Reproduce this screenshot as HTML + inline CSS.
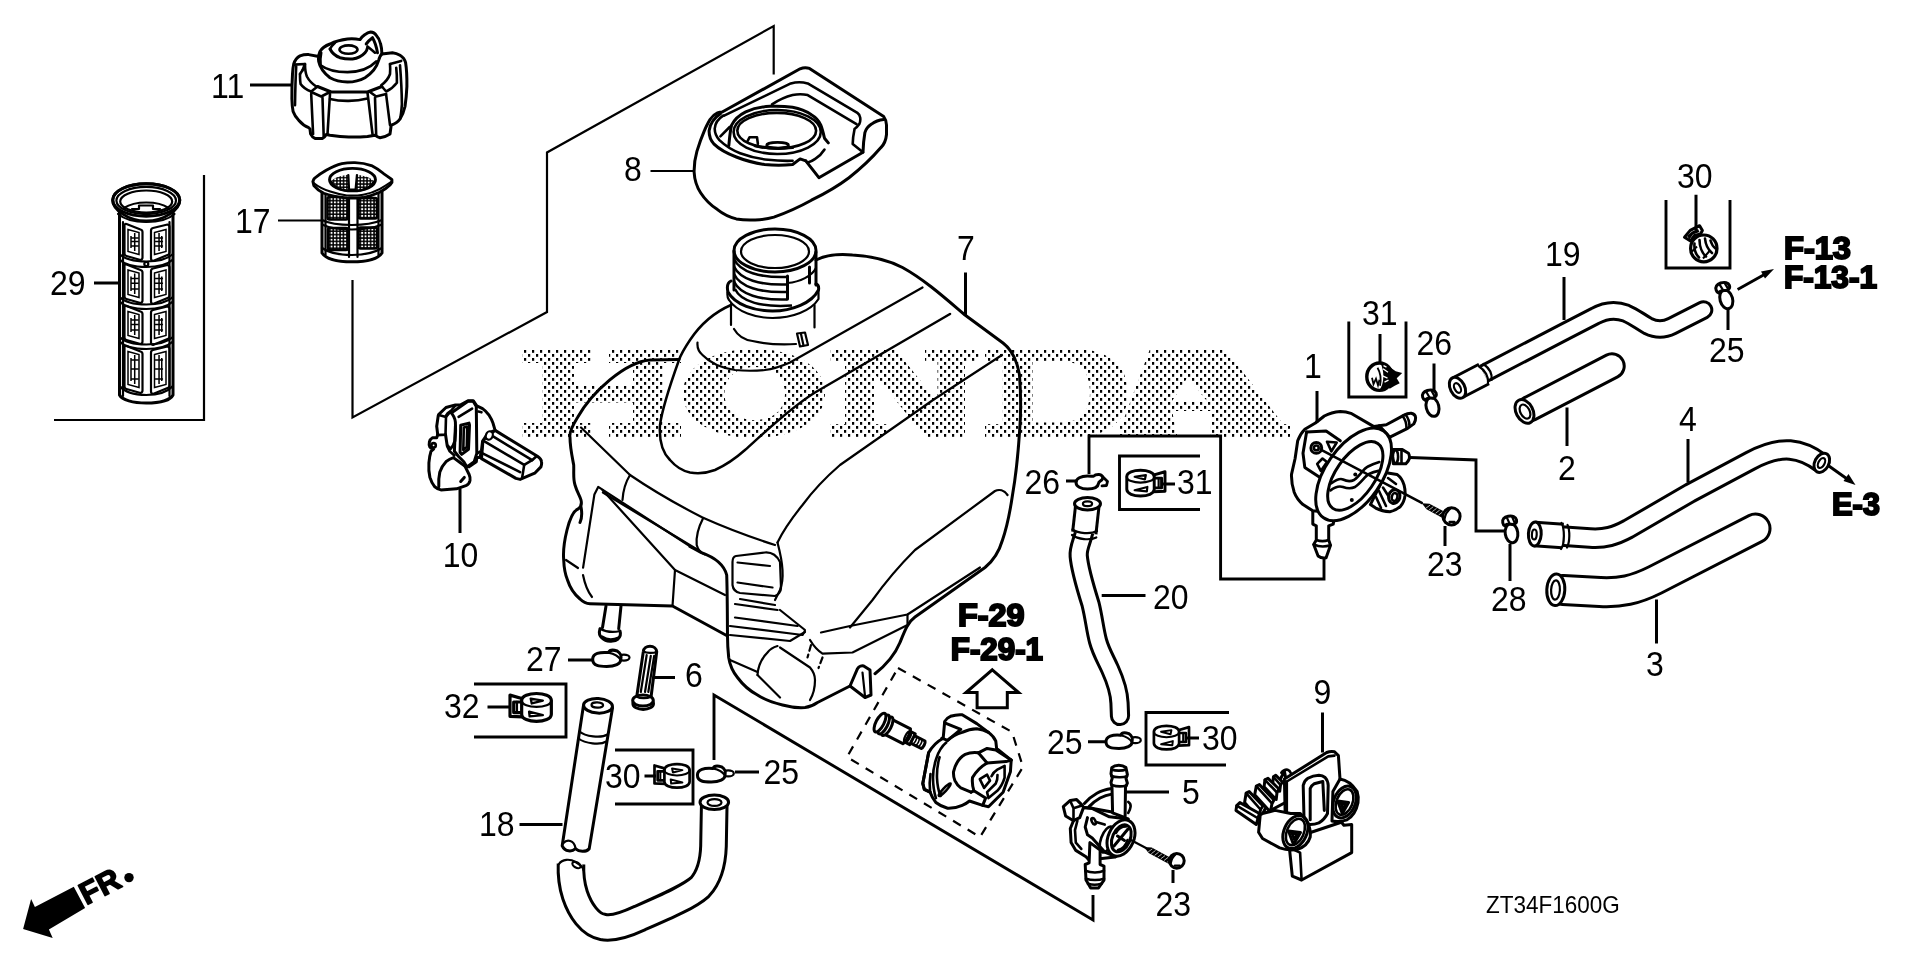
<!DOCTYPE html>
<html><head><meta charset="utf-8"><title>Fuel tank parts diagram</title>
<style>
html,body{margin:0;padding:0;background:#fff;}
body{width:1920px;height:959px;overflow:hidden;font-family:"Liberation Sans",sans-serif;}
svg{display:block;font-family:"Liberation Sans",sans-serif;}
.o{fill:none;stroke:#000;stroke-width:3;stroke-linecap:round;stroke-linejoin:round;}
.t{fill:none;stroke:#000;stroke-width:2.2;stroke-linecap:round;stroke-linejoin:round;}
.l{fill:none;stroke:#000;stroke-width:3;stroke-linecap:butt;stroke-linejoin:miter;}
.w{fill:#fff;stroke:#000;stroke-width:3;stroke-linecap:round;stroke-linejoin:round;}
.wt{fill:#fff;stroke:#000;stroke-width:2.2;stroke-linecap:round;stroke-linejoin:round;}
.k{fill:#000;stroke:none;}
#cap11 .t,#part10 .t,#valve5 .t,#part9 .t,#pump1 .t,#knob .t,#cover8 .t{stroke-width:2.6;}
</style></head><body>
<svg width="1920" height="959" viewBox="0 0 1920 959" style="filter:grayscale(1)">
<rect x="0" y="0" width="1920" height="959" fill="#fff"/>
<!-- 05_defs.svg -->
<defs>
<pattern id="mesh" width="3.4" height="3.4" patternUnits="userSpaceOnUse">
<rect width="3.4" height="3.4" fill="#000"/><rect x="0.8" y="0.8" width="1.9" height="1.9" fill="#fff"/>
</pattern>
<pattern id="dots" x="0" y="2" width="8" height="8" patternUnits="userSpaceOnUse">
<rect x="0" y="0" width="2.2" height="2.8" fill="#000"/><rect x="4" y="4" width="2.2" height="2.8" fill="#000"/>
</pattern>
</defs>

<!-- 20_tank.svg -->
<g id="tank">
<!-- outer silhouette -->
<path class="o" d="M816 260C828 254 842 254 852.5 255C872 256 888 260 902.5 267.5C925 280 945 298 965 315L1003 343C1012 350 1017 360 1019.5 375C1021 395 1021 415 1019.5 432.5C1018 455 1016 475 1012.5 495C1010 512 1007 527 1002.5 540C999 552 993 561 985 567.5L915 617C908 622 905 630 900 642.5C896 652 890 662 875 673.7"/>
<path class="o" d="M679 359.5L650 360C625 362 592 392 577.5 417.5C571 428 569 433 570 437.5C570 447 572 456 573.7 465C574 473 573 479 575 485C577 492 580 496 581 500C582 504 581 507 578 509C573 511 570 518 567 530C564 542 563 552 563.7 560C564 568 565 574 567.5 580C570 588 574 594 580 599C583 602 586 603.5 590 603.7L672.5 606L727.5 636"/>
<path class="o" d="M581 507C582 512 582 518 580 522.5"/>
<path class="o" d="M690 546.5L701.4 552.6C714.5 557.3 723.9 563.8 726.7 575C727.3 590 727.3 610 727.5 636C727.5 645 728 651 728.7 657.5C730 666 733 672 737.5 677.5C743 685 750 691 757.5 695C765 700 774 703 782.5 705C790 707 798 708 805 707.5C810 707 814 705 817.5 702.5L850 686"/>
<path class="o" d="M850 686L857.5 668.7C859 666 862 665.5 863.7 666L870 670L871 695L865 697.5Z"/>
<path class="t" d="M862.5 672.5L865 696"/>
<!-- saddle / dome line C -->
<path fill="none" stroke="#000" stroke-width="2.5" stroke-linecap="round" d="M731 305C715 312 700 325 690 340C684 349 681 354 679 360C670 385 662 410 660 425C659 440 662 452 670 460C676 467 683 471 690 472.5C698 474 707 473 715 470C726 465 736 458 745 450C765 432 790 408 815 392.5L950 314"/>
<!-- dome base ellipse arc -->
<path class="t" d="M697.5 342.5C697 348 699 352 702.5 355C710 363 722 368 735 370C745 371 755 371 765 370C774 369 782 366 790 362.5L922.5 287.5"/>
<!-- line D -->
<path class="t" d="M1002 355L933 400L840 465C825 478 812 492 802.5 505C792 518 783 531 777.5 542.5"/>
<!-- shoulder B -->
<path class="t" d="M581 427.5L630 475C652 490 678 505 702.5 517.5C726 528 750 537 775 545"/>
<path class="t" d="M630 475C625 483 623 492 622.5 500"/>
<path class="t" d="M703.2 517.9C698 528 696 538 696.7 545C698 550 701 553 705 554.4"/>
<!-- line F, G -->
<path class="t" d="M1007.5 495C1004 490 999 489 995 491L915 550C898 567 884 584 872.5 600L850 627.5"/>
<path class="t" d="M980 567.5L907.5 614.5L850 626L821 632.5"/>
<path class="t" d="M907.5 614.5V625L852.5 652.5L822.5 653.7C817 650 813 645 810 640"/>
<!-- recessed panel H -->
<path class="t" d="M583.1 567.6L594.4 494.4L598.2 486.9L692 547.5"/>
<path class="t" d="M602.9 492.5L697.6 549.8"/>
<path class="t" d="M602.5 490L675 570L725 595"/>
<path class="t" d="M675 570L672.5 606"/>
<path class="t" d="M566 560L578 568"/>
<path class="t" d="M583 575C585 585 588 592 592 597"/>
<!-- J -->
<path class="t" d="M777.5 542.5C780 552 782 561 782.5 570C783 578 782 585 780 590L775 600"/>
<!-- pad I -->
<path class="t" d="M736 556L765 552.5C772 552 777 556 780 562L781 588C781 592 778 595 775 596L740 593C735 592 733 589 732.5 585V562C732.5 558 734 556.5 736 556Z"/>
<path class="t" d="M737.5 562.5L770 566"/>
<path class="t" d="M737.5 582.5L772.5 587.5"/>
<path class="t" d="M740 599L775 605"/>
<path class="t" d="M735 604L777.5 610"/>
<path class="t" d="M735 617.5L797.5 626"/>
<path class="t" d="M730 626L802.5 635C804 633 805 631 805 630L780 610"/>
<path class="t" d="M730 635L790 641L805 632"/>
<!-- bottom dome -->
<path class="t" d="M757.5 675C758 666 762 658 767.5 652.5C770 649 774 647 777.5 646"/>
<path class="t" d="M780 647.5L810 667.5C813 671 815 675 815 680C815 688 813 695 810 700"/>
<path class="t" d="M757.5 675L780 697.5"/>
<path class="t" d="M730 660L757.5 672"/>
<path class="t" stroke-dasharray="6 4" d="M811 645L807.5 657.5"/>
<path class="t" stroke-dasharray="6 4" d="M822.5 657.5L818.5 668"/>
<!-- outlet pipe -->
<path class="o" d="M606 606L602.5 627.5M621 606L618.7 628.7"/>
<path class="o" d="M600 628.7C599 632 599.5 636 602 638C606 642 614 642.5 618 639C620 637 621 634 620 631"/>
<path class="t" d="M600 628.7C606 632 614 632.5 620 631"/>
<path class="t" d="M602 636.5C607 640 613 640 618.5 637.5"/>
<!-- neck -->
<path class="o" d="M734 251V290M816 252V285"/>
<ellipse class="o" cx="775" cy="250.5" rx="41" ry="21.5"/>
<ellipse class="t" cx="775" cy="251.5" rx="34" ry="16.5"/>
<path fill="none" stroke="#000" stroke-width="2.5" d="M734 259C740 272 760 278 787.5 277M734 266.5C740 279.5 760 285.5 787.5 284.5M734 274C740 287 760 293 787.5 292M734 281.5C740 294.5 760 300.5 787.5 299.5M735 289C741 302 762 307.5 792 305.5"/>
<path class="o" d="M787.5 276V299"/>
<path class="t" d="M787.5 283C800 282 812 276 816 268"/>
<path class="o" d="M809.5 267V283"/>
<path class="o" d="M731 281C727 283 727 288 728 292C735 305 755 311 772.5 311C792 311 812 303 818.5 290C819 287 819 285 816 284"/>
<path class="t" d="M727.5 292C727 296 727.5 298 729 300C737 312 756 318 772.5 318C792 318 811 311 818.5 299V290"/>
<path class="t" d="M731 304V325M814.5 305V327.5"/>
<path class="t" d="M734 329C738 336 745 340 752.5 341C766 344 782 345 796 344"/>
<path class="wt" d="M797 333.5L805 332.5L808 345L800 346.5Z"/>
<path class="t" d="M801 334L803.5 345.5"/>
<!-- label 7 leader join handled in leaders -->
</g>

<!-- 30_hoses.svg -->
<g id="hoses" fill="none" stroke-linejoin="round">
<!-- hose 19 -->
<g id="h19">
<path d="M1481 375.2L1565 331.5L1595 316C1604 311 1615 309 1626 313.2C1634 316.5 1640 321.5 1648 326C1656 330 1664 330 1672 326L1703.5 310" stroke="#000" stroke-width="19.6" stroke-linecap="round"/>
<path d="M1481 375.2L1565 331.5L1595 316C1604 311 1615 309 1626 313.2C1634 316.5 1640 321.5 1648 326C1656 330 1664 330 1672 326L1703.5 310" stroke="#fff" stroke-width="13.6" stroke-linecap="round"/>
<path d="M1458 387.5L1484 374" stroke="#000" stroke-width="25" stroke-linecap="butt"/>
<path d="M1458 387.5L1484 374" stroke="#fff" stroke-width="19.0" stroke-linecap="butt"/>
<path d="M1479 366.5C1485 370 1489 377 1488 383.5" class="t"/>
<path d="M1483.5 364C1489 368 1492.5 374 1491.5 380" class="t"/>
<ellipse cx="1457.5" cy="387.8" rx="7.2" ry="11.2" transform="rotate(-27 1457.5 387.8)" class="w"/>
<ellipse cx="1457.5" cy="388" rx="3" ry="5.2" transform="rotate(-27 1457.5 388)" class="t"/>
</g>
<!-- hose 2 -->
<g id="h2">
<path d="M1530 408.5L1612 366" stroke="#000" stroke-width="27.4" stroke-linecap="round"/>
<path d="M1530 408.5L1612 366" stroke="#fff" stroke-width="21.4" stroke-linecap="round"/>
<ellipse cx="1524.5" cy="411.4" rx="8.4" ry="12.6" transform="rotate(-27.4 1524.5 411.4)" class="w"/>
<ellipse cx="1525" cy="411.6" rx="4.6" ry="7.6" transform="rotate(-27.4 1525 411.6)" class="t"/>
</g>
<!-- hose 4 -->
<g id="h4">
<path d="M1561 536L1590 538C1605 539 1615 536 1628 529L1690 493L1750 461C1765 453 1778 449 1790 450C1802 451 1812 456 1821 463" stroke="#000" stroke-width="21.4" stroke-linecap="butt"/>
<path d="M1561 536L1590 538C1605 539 1615 536 1628 529L1690 493L1750 461C1765 453 1778 449 1790 450C1802 451 1812 456 1821 463" stroke="#fff" stroke-width="15.4" stroke-linecap="butt"/>
<path d="M1534.5 534L1563 536" stroke="#000" stroke-width="26.5" stroke-linecap="butt"/>
<path d="M1534.5 534L1563 536" stroke="#fff" stroke-width="20.5" stroke-linecap="butt"/>
<path d="M1561.5 523C1564.5 528 1565 544 1561 549" class="t"/>
<path d="M1567.5 525C1570 530 1570 542 1567 547.5" class="t"/>
<ellipse cx="1534.8" cy="534" rx="6.4" ry="12" transform="rotate(3 1534.8 534)" class="w"/>
<ellipse cx="1534.3" cy="534.5" rx="2.4" ry="5" transform="rotate(3 1534.3 534.5)" class="t"/>
<ellipse cx="1821.8" cy="462.8" rx="7" ry="10.2" transform="rotate(28 1821.8 462.8)" class="w"/>
<ellipse cx="1821.5" cy="463" rx="3" ry="5.4" transform="rotate(28 1821.5 463)" class="t"/>
</g>
<!-- hose 3 -->
<g id="h3">
<path d="M1563 590.1L1600 592C1620 593 1635 590 1655 580L1755.5 528.5" stroke="#000" stroke-width="32" stroke-linecap="round"/>
<path d="M1563 590.1L1600 592C1620 593 1635 590 1655 580L1755.5 528.5" stroke="#fff" stroke-width="26.0" stroke-linecap="round"/>
<ellipse cx="1555.8" cy="589.8" rx="9" ry="15.8" transform="rotate(3 1555.8 589.8)" class="w"/>
<ellipse cx="1555.5" cy="590" rx="4.4" ry="9.6" transform="rotate(3 1555.5 590)" class="t"/>
</g>
<!-- hose 20 -->
<g id="h20">
<path d="M1084.5 531C1082 542 1078 548 1078.7 556C1079.5 566 1083 580 1090.5 604C1094 618 1095 630 1098 641C1101 652 1106 660 1110 669C1115 680 1119 690 1119.5 703L1120 716" stroke="#000" stroke-width="20.2" stroke-linecap="round"/>
<path d="M1084.5 531C1082 542 1078 548 1078.7 556C1079.5 566 1083 580 1090.5 604C1094 618 1095 630 1098 641C1101 652 1106 660 1110 669C1115 680 1119 690 1119.5 703L1120 716" stroke="#fff" stroke-width="14.2" stroke-linecap="round"/>
<path d="M1087.5 504L1084.3 533" stroke="#000" stroke-width="26.4" stroke-linecap="butt"/>
<path d="M1087.5 504L1084.3 533" stroke="#fff" stroke-width="20.4" stroke-linecap="butt"/>
<path d="M1072.5 529.5C1078 533.5 1091 534.5 1097 531" class="t"/>
<path d="M1072 535C1078 539.5 1090 540.5 1096.3 537.5" class="t"/>
<ellipse cx="1087.5" cy="503.8" rx="13" ry="6.2" class="w"/>
<ellipse cx="1087.5" cy="503.8" rx="4.6" ry="2.4" class="t"/>
</g>
<!-- hose 18 -->
<g id="h18">
<path class="w" d="M583.4 706L562.2 845.8C565 852 572 852 575.3 848.7C579 852 586 852.5 589.2 848.7L612.5 708Z"/>
<path class="t" d="M579.5 731.5C585 736.5 601 738.5 607.5 734.5"/>
<path class="t" d="M578.5 738.5C585 743.5 600 745.5 606.3 741.5"/>
<path class="t" d="M563.5 843C567 839 574 840 575.5 848"/>
<ellipse cx="598" cy="705.8" rx="14.5" ry="7.3" class="w" transform="rotate(3 598 705.8)"/>
<ellipse cx="597.3" cy="705" rx="5.8" ry="2.7" class="t" transform="rotate(3 597.3 705)"/>
</g>
<!-- lower U hose -->
<g id="hU">
<path d="M714.3 802L713.5 846C713 862 710 876 700 887C690 896 670 905 640 918C625 925 612 929 603 927C590 925 580 910 575 895C572 886 570.5 876 571 864" stroke="#000" stroke-width="28.6" stroke-linecap="butt"/>
<path d="M714.3 800L713.5 846C713 862 710 876 700 887C690 896 670 905 640 918C625 925 612 929 603 927C590 925 580 910 575 895C572 886 570.5 876 571 862" stroke="#fff" stroke-width="22.6" stroke-linecap="butt"/>
<path class="t" d="M559 864C562 859 570 858.5 575.5 862C580 864.5 583 867 583.5 870"/>
<ellipse cx="576.5" cy="865" rx="4.5" ry="2.6" class="t" transform="rotate(30 576.5 865)"/>
<ellipse cx="714.3" cy="802.2" rx="14.3" ry="7.2" class="w"/>
<ellipse cx="714.5" cy="802.5" rx="7" ry="3.4" class="t"/>
</g>
</g>

<!-- 40_cap11.svg -->
<g id="cap11">
<path class="w" d="M293.7 64C295 60 297 57.5 300 55.9C303 54.8 306 54.5 308.7 54.6L318.7 56.5C319 54.5 319.3 53 320 51.5C322 48 326 45.5 330 44C335 41.5 341 39.8 347.5 39C352 38.6 356 38.8 360 39.6C361.5 37.5 363 36 365 34.6C367 33 369 32.3 370.6 32.1C373 32.3 375 33.5 376.2 35.2C378.5 37.5 379.8 40.5 380.6 44C381.5 47 381.8 50 381.9 54L392.5 52.7C395.5 53 398 54 400 55.2C403 57 404.8 59.5 405.6 62.7C406.8 70 407 78 406.9 86.5C406.6 93 406 100 405 106.5C404 111 402.5 115 400 119C398 122 395 124 391.2 125.2L390 134C387 136 384 137.3 380 137.7C378 137.3 376.3 136.3 375 135.2L367.5 136.5C361 137 355 137.2 348.7 137C342 136.7 336 136 330 135.2L326.2 134.6C325 136.5 324 137.8 322.5 138.4H315C313 137.5 311.5 136 310.6 134L310 129L308.7 127.7C304.5 126 301.5 123.5 298.7 120.2C296 117.5 294.2 114.5 293.1 111.5C292.3 107.5 292 103 291.9 99C291.8 90 292 82 292.5 74C292.7 70.5 293 67 293.7 64Z"/>
<!-- left lobe -->
<path class="t" d="M294.4 64.6L305 64L302.5 70.2"/>
<path class="t" d="M305 64C305 69 305.5 73 306.9 76.5C309 80.5 312.5 84 316.2 86.5"/>
<path class="t" d="M300 74C300 78 300 81 300.6 84C303 87.5 307 90 311.2 91.5L317.5 86.5"/>
<path class="t" d="M296.2 66.5C295.6 78 295.2 92 295 105.2"/>
<path class="t" d="M302.5 70.2L300 74"/>
<!-- top face front edges -->
<path class="o" d="M317.5 86.5L331.2 92H367.5L381.9 86.5"/>
<path class="t" d="M311.2 92L321.2 96.5L330 92"/>
<path class="t" d="M311.2 94L313.1 134M322.5 97.7L323.7 136.5M330 94L327.5 134"/>
<path class="t" d="M330 99C336 100.5 342 101 348.7 100.9C355 100.7 361 100 367.5 98.4"/>
<path class="t" d="M370 92L376.2 96.5L386.2 94"/>
<path class="t" d="M367.5 92.7L372.5 134M375 97.7L376.2 135.2M386.2 95.2L390 125.2"/>
<!-- right lobe -->
<path class="t" d="M390 64L401.2 60.9"/>
<path class="t" d="M390 64C390.3 68 390.3 71 390 74C388.5 78.5 385 82.5 381.2 85.2"/>
<path class="t" d="M396.2 67.7C396.8 73 397 78 396.9 82.7C394 86.5 390.5 89.5 386.2 91.5L381.9 86.5"/>
<path class="t" d="M400 65.2C401 78 401.8 92 401.9 104C401.5 110 401 115 400 119"/>
<!-- dome -->
<path class="o" d="M318.7 56.5C318.3 58.5 318.4 60 318.7 61.5C320 68 324.5 73.5 330 77.7C335 80.5 341 81.8 347.5 82.1C354 82 360 80.5 365 77.7C371 74 376.5 68 378.7 60.2C379.5 57 380.5 55 381.9 54"/>
<path class="t" d="M320.6 65.2C327 70 337 72 347.5 72.1C358 72 369 69 376.2 61.5"/>
<path class="t" d="M321.2 52.7C320.3 57 320.2 61 320.6 65.2"/>
<path class="o" d="M330 49C332 53 335.5 56 340 57.7C344 58.8 348 59.2 352.5 59C357.5 58.3 362 56 365 52.7C366.5 51 367.3 49.5 367.5 47.7"/>
<path class="t" d="M330 49C331 46.5 333 44.5 335 42.7"/>
<ellipse cx="348.5" cy="49.6" rx="9" ry="4.2" fill="none" stroke="#000" stroke-width="2.6"/>
<!-- tab -->
<path class="o" d="M366.2 44C368 41.5 370 39.5 372.5 37.7C375 42 376.5 47 377.5 52.7"/>
<path class="t" d="M367.5 46.5C370 48.5 372.5 50.5 375 52.7"/>
</g>

<!-- 41_strainer17.svg -->
<g id="strainer17">
<!-- body -->
<path class="w" d="M322 190V253C326 259 338 261.8 352 261.8C366 261.8 378 259 382 253V190Z"/>
<path class="t" d="M325.5 193V255M378.5 193V255"/>
<rect x="327.5" y="197" width="20.5" height="22.5" rx="2" fill="url(#mesh)" stroke="#000" stroke-width="2.6"/>
<rect x="358.5" y="198" width="18.5" height="20.5" rx="2" fill="url(#mesh)" stroke="#000" stroke-width="2.6"/>
<rect x="328" y="228" width="20" height="22" rx="2" fill="url(#mesh)" stroke="#000" stroke-width="2.6"/>
<rect x="358.5" y="227.5" width="18.5" height="21" rx="2" fill="url(#mesh)" stroke="#000" stroke-width="2.6"/>
<path class="t" d="M322 220C330 224 340 225 352 225C364 225 374 223.5 382 220"/>
<path class="t" d="M322 224.5C330 228.5 340 229.5 352 229.5C364 229.5 374 228 382 224.5"/>
<path class="t" d="M322 248C330 253.5 340 255 352 255C364 255 374 253 382 248"/>
<path class="t" d="M349 198V257M357.5 198V257"/>
<g transform="translate(352.5 0) scale(0.985 1) translate(-352.5 0) translate(0 190) scale(1 0.94) translate(0 -190)">
<!-- rim -->
<path class="w" d="M312.3 181C313 178.5 313.5 178 314 177.5C318 174 321.5 171.5 325.8 169C331 166 336 163.5 341.7 162C346 161 350.5 160.7 355 160.8C361 161 366.5 162 371.7 164C376.5 166.5 380.5 169.5 384 172.5C387 174.5 390 177 392.5 179V182L390.8 184.5C388 187.5 384.5 190 380 192.5C375 195 369.5 197 363.3 198C358 198.7 352 198.8 346.7 198.5C338 197.5 330 196 323.3 193.5C319.5 191.5 316 189 313.3 185.4Z"/>
<path class="t" d="M313 182.5C316 185 322 189 330 191.7C335 193.5 341 195 346.7 195.8C352 196.2 358 196 363.3 195C369.5 193.8 375 191.8 380 189C384.5 186.5 388 184 391.5 181.5"/>
<ellipse cx="352.5" cy="179" rx="23.3" ry="12" class="w"/>
<path d="M331.5 180C333 186 342 190.5 352.5 190.5C363 190.5 372 186 373.5 180C370 176 361 173.5 352.5 173.5C344 173.5 335 176 331.5 180Z" fill="url(#mesh)"/>
<path d="M348.3 172L349 189.5H355.6L357 172Z" fill="#fff"/>
<path class="t" d="M348.3 174L349 189.5H355.6L357 174"/>
<path class="t" d="M331 181C334 187.5 342 191 352.5 191C363 191 371 187.5 374 181"/>
</g>
</g>

<!-- 42_filter29.svg -->
<g id="filter29">
<path class="w" d="M119.5 205V395C122 400 133 403 146.2 403C160 403 170.5 400 173 395V205Z"/>
<path class="t" d="M123 222V396M169.5 222V396"/>
<path class="t" d="M119.5 254C125 259.5 135 261.5 146.2 261.5C158 261.5 167 259.5 173 254"/>
<path class="t" d="M119.5 259.5C125 265.0 135 267.0 146.2 267.0C158 267.0 167 265.0 173 259.5"/>
<path class="t" d="M119.5 297C125 302.5 135 304.5 146.2 304.5C158 304.5 167 302.5 173 297"/>
<path class="t" d="M119.5 301.5C125 307.0 135 309.0 146.2 309.0C158 309.0 167 307.0 173 301.5"/>
<path class="t" d="M119.5 337C125 342.5 135 344.5 146.2 344.5C158 344.5 167 342.5 173 337"/>
<path class="t" d="M119.5 341.5C125 347.0 135 349.0 146.2 349.0C158 349.0 167 347.0 173 341.5"/>
<path class="t" d="M119.5 386C125 392.5 135 395 146.2 395C158 395 167 392.5 173 386"/>
<path class="t" d="M124.5 225.5Q124.5 223.5 126.5 224.0L140.5 229.5Q142.5 230.0 142.5 232.0V257.5Q142.5 259.5 140.5 260.0L126.5 256.0Q124.5 255.5 124.5 253.5Z"/>
<path fill="none" stroke="#000" stroke-width="1.5" d="M128.0 229.5L139.0 232.5V254.5L128.0 251.5Z"/>
<path fill="none" stroke="#000" stroke-width="1.5" d="M134.7 233V251M130.7 238H138.7M130.7 241.5H138.7M130.7 246H138.7M131.0 236V248"/>
<path class="t" d="M151 230.5Q151 228.5 153 228.0L167.5 224.5Q169.5 225.0 169.5 227.0V252.5Q169.5 254.5 167.5 255.0L153 261.0Q151 260.5 151 258.5Z"/>
<path fill="none" stroke="#000" stroke-width="1.5" d="M154.5 232.5L166.0 229.5V251.5L154.5 254.5Z"/>
<path fill="none" stroke="#000" stroke-width="1.5" d="M159.05 233V251M155.05 238H163.05M155.05 241.5H163.05M155.05 246H163.05M161.75 236V248"/>
<path class="t" d="M124.5 266.0Q124.5 264.0 126.5 264.5L140.5 270.0Q142.5 270.5 142.5 272.5V300.5Q142.5 302.5 140.5 303.0L126.5 299.0Q124.5 298.5 124.5 296.5Z"/>
<path fill="none" stroke="#000" stroke-width="1.5" d="M128.0 270.0L139.0 273.0V297.5L128.0 294.5Z"/>
<path fill="none" stroke="#000" stroke-width="1.5" d="M134.7 273.5V294M130.7 278.5H138.7M130.7 283.25H138.7M130.7 289H138.7M131.0 276.5V291"/>
<path class="t" d="M151 271.0Q151 269.0 153 268.5L167.5 265.0Q169.5 265.5 169.5 267.5V295.5Q169.5 297.5 167.5 298.0L153 304.0Q151 303.5 151 301.5Z"/>
<path fill="none" stroke="#000" stroke-width="1.5" d="M154.5 273.0L166.0 270.0V294.5L154.5 297.5Z"/>
<path fill="none" stroke="#000" stroke-width="1.5" d="M159.05 273.5V294M155.05 278.5H163.05M155.05 283.25H163.05M155.05 289H163.05M161.75 276.5V291"/>
<path class="t" d="M124.5 307.5Q124.5 305.5 126.5 306.0L140.5 311.5Q142.5 312.0 142.5 314.0V341.5Q142.5 343.5 140.5 344.0L126.5 340.0Q124.5 339.5 124.5 337.5Z"/>
<path fill="none" stroke="#000" stroke-width="1.5" d="M128.0 311.5L139.0 314.5V338.5L128.0 335.5Z"/>
<path fill="none" stroke="#000" stroke-width="1.5" d="M134.7 315V335M130.7 320H138.7M130.7 324.5H138.7M130.7 330H138.7M131.0 318V332"/>
<path class="t" d="M151 312.5Q151 310.5 153 310.0L167.5 306.5Q169.5 307.0 169.5 309.0V336.5Q169.5 338.5 167.5 339.0L153 345.0Q151 344.5 151 342.5Z"/>
<path fill="none" stroke="#000" stroke-width="1.5" d="M154.5 314.5L166.0 311.5V335.5L154.5 338.5Z"/>
<path fill="none" stroke="#000" stroke-width="1.5" d="M159.05 315V335M155.05 320H163.05M155.05 324.5H163.05M155.05 330H163.05M161.75 318V332"/>
<path class="t" d="M124.5 347.5Q124.5 345.5 126.5 346.0L140.5 351.5Q142.5 352.0 142.5 354.0V390.5Q142.5 392.5 140.5 393.0L126.5 389.0Q124.5 388.5 124.5 386.5Z"/>
<path fill="none" stroke="#000" stroke-width="1.5" d="M128.0 351.5L139.0 354.5V387.5L128.0 384.5Z"/>
<path fill="none" stroke="#000" stroke-width="1.5" d="M134.7 355V384M130.7 360H138.7M130.7 369.0H138.7M130.7 379H138.7M131.0 358V381"/>
<path class="t" d="M151 352.5Q151 350.5 153 350.0L167.5 346.5Q169.5 347.0 169.5 349.0V385.5Q169.5 387.5 167.5 388.0L153 394.0Q151 393.5 151 391.5Z"/>
<path fill="none" stroke="#000" stroke-width="1.5" d="M154.5 354.5L166.0 351.5V384.5L154.5 387.5Z"/>
<path fill="none" stroke="#000" stroke-width="1.5" d="M159.05 355V384M155.05 360H163.05M155.05 369.0H163.05M155.05 379H163.05M161.75 358V381"/>
<circle cx="146.3" cy="264" r="2" class="wt"/>
<path class="w" d="M112.7 200C112.7 209 127.5 221 146.2 221C165 221 179.8 209 179.8 200C179.8 191 165 183.7 146.2 183.7C127.5 183.7 112.7 191 112.7 200Z"/>
<ellipse cx="146.2" cy="200" rx="33.5" ry="16.3" class="o"/>
<ellipse cx="146.2" cy="200.5" rx="29.8" ry="13.6" class="t"/>
<ellipse cx="146.2" cy="201.5" rx="26" ry="11" class="t"/>
<path class="t" d="M124 208C130 204 138 202.5 146.2 202.5C155 202.5 163 204 168.5 208"/>
<path class="t" d="M132 209H139V205.5H153V209H160"/>
<path class="t" d="M118 214C124 219 134 222 146.2 222C158 222 169 219 174.5 214"/>
</g>

<!-- 43_cover8.svg -->
<g id="cover8">
<path class="w" d="M800.1 68.8C803 67.5 806.5 67.3 809.5 68.4L883.7 116.6C885.5 119 886.5 122 886.5 125.1V134.5C886 140 884 144.5 880.9 147.6C872 158 861 168.5 849 177.7C838 186 825 193.5 811.4 200.2C800 206.5 787 212.5 773.9 217.1C768 218.8 761.5 219.7 755.1 219.9C749 220.2 742.5 220 736.3 218.9C729 217 723 214 717.5 209.6C710.5 205 705 199.5 700.6 192.7C696.5 186.5 694.5 179.5 694.1 172C694 165 695 158 696.9 151.4C699 144.5 701.5 137.5 704.4 130.7C706 126.5 708 123 710 119.5C712 116.5 714.5 114.3 717.5 112.9C719 112.3 720.6 112 722.2 112Z"/>
<!-- inner edge -->
<path class="t" d="M724.1 115.7L790.8 83.4C796 82 802.5 82 807.7 83.4L857.4 112.9C859 114 860 115.5 860.2 117.6C860.5 120 860.2 122.5 859.3 124.1C858 126 856.5 127.8 854.6 128.8C853.5 134 852.8 139 852.7 143.9L863 152.3"/>
<path class="t" d="M772 104.4C778 100.5 785 97 792.6 95.1C797.5 94 803 94 807.7 95.1L856.5 124.1"/>
<path class="o" d="M883.7 119.5C879 120 875 121.5 871.5 124.1C868 126.5 865.8 129.5 864.9 132.6C863.8 139 863.2 146 863 152.3L818.9 177.7L805.8 160.8"/>
<!-- rings -->
<path class="o" d="M720.4 113.8C714 118 710 124 709.1 130.7C709 135.5 710.5 140 713.8 143.9C719.5 149.5 727 153.5 736.3 157C745 160.5 754.5 163 764.5 164.5C774 165.5 783.5 165.5 792.6 164.5L800.1 158.9L805.8 160.8"/>
<path class="t" d="M723.2 115.7C718 119 715 123.5 714.7 128.8C714.8 133 716.5 137 719.4 140.1C725 145.5 732 150 740.1 153.2C749 156.5 758.5 158.8 768.2 159.8C776.5 160.8 784.5 161 792.6 160.8"/>
<path class="t" d="M720.4 136.4L729.7 127"/>
<path class="o" d="M728.8 145.7C729.5 138.5 730 131.5 731.6 125.1C734.5 119.5 739.5 115 745.7 111.9C753 108.5 761.5 106.8 770.1 106.3C777.5 106 785 106.2 792.6 107.3C799.5 108.5 806 111 811.4 114.8C816 117.5 819 121 820.8 125.1C822.5 129.5 823.5 134 824.5 138.2L828.3 142.9"/>
<ellipse class="t" cx="777.2" cy="132" rx="43.6" ry="22"/>
<ellipse class="t" cx="776.7" cy="130.7" rx="39.4" ry="17.8"/>
<path class="t" d="M824.5 149.5C822 153.5 819 156.5 815.2 158.9C813 160.5 810.5 161.8 807.7 162.6"/>
<path class="t" d="M747.6 141L749.5 137.3H757L757.9 143.9"/>
<ellipse class="t" cx="777.6" cy="145.2" rx="11" ry="2.8"/>
<path class="o" d="M755 145.7C767 148.5 780 149 792.6 147.6"/>
</g>

<!-- 44_part10.svg -->
<g id="part10">
<!-- handle -->
<path class="w" d="M495.1 430.4L537.8 456.5C540 458 541.3 459.8 541.5 461.7C541.8 463.5 541.5 465.3 540.9 466.9L534.7 473.2L520.1 479.4L515.9 478.4L481.5 458.6L483 440Z"/>
<path class="t" d="M493.5 436.7L532.1 460.2L536.5 456.2"/>
<path class="t" d="M483.6 440.9L524.2 464.9L532.1 460.2"/>
<path class="t" d="M482.6 453.4L520.1 472.1"/>
<path class="t" d="M524.2 464.9L522.2 477.4"/>
<!-- body silhouette -->
<path class="w" d="M438.8 414.3L446 407.5L455.4 404.9H460.7L468 400.7H473.2L476.8 405.9L482.6 408.6C485 410.3 487 412.3 488.8 414.8C490.5 417.5 492 420 493 423.1L495.1 430.4C492 431 489 433 486 436L482.6 441L481.5 450.3L480 457.6H476.8L476.3 461.7L469 466.9L464.8 465.9L469 474.2C470 476.5 470.3 478.5 470 480.5C469.5 483 468 484.8 465.9 485.7L456.5 488.8L440.9 489.9C438.5 489.3 436.3 488.3 434.6 486.7C432.5 484 431 481 429.9 477.4C428.8 472.5 428.6 467.5 428.9 462.8C429.2 458.5 430 454.5 431 451.3L433.6 449.2C431.5 448.8 430.3 448 429.9 447.1C429.2 445.5 429 443.5 429.4 441.9C430 439.8 431 438.5 432.5 437.7H436.7L437.7 434.6L436.7 426.3L438.2 415.9Z"/>
<circle class="t" cx="433.6" cy="445.3" r="2.2"/>
<!-- back plate -->
<path class="t" d="M438.8 415L446 416.9L445.5 434.6L437.2 435.1"/>
<path class="t" d="M446 416.9L455.4 405.5"/>
<!-- middle bracket -->
<path class="o" d="M446 415.9C447 414 448.5 412.5 450.2 411.7C453 414.5 455 418 455.4 422.1C455.8 428 455.6 435 454.9 440.9C454 444.5 452.3 447.3 450.2 449.2L447.1 445L445.5 434.6"/>
<!-- front plate -->
<path class="o" d="M452.3 412.2L468 401.3H473.2L476.3 406.5L476.8 453.4L474.2 461.7L466.9 466.9L463.8 461.7L458.6 456.5L454.4 451.3L455.4 426.3"/>
<path class="t" d="M458.6 416.9L472.1 408.6"/>
<path class="o" d="M460.7 425.2L469 423.1L469.5 425.2L468.5 449.2L461.7 454.4L460.1 452.3Z"/>
<path class="t" d="M463.8 427.5L467.2 426.5L466.8 447L463.3 450Z"/>
<path class="t" d="M477.3 453.4L480 451.5"/>
<path class="t" d="M478.4 411.5L481.5 412.3"/>
<!-- pivot -->
<ellipse class="wt" cx="489.3" cy="435.5" rx="3.4" ry="4.3" transform="rotate(20 489.3 435.5)"/>
<!-- dome -->
<path class="o" d="M438.8 486.7C438.5 481.5 438.8 476.5 439.8 472.1C441 468 443.3 464.5 446 461.7C448.5 459.5 451 458.2 453.4 457.6L461.7 463.8L464.8 465.9"/>
<path class="t" d="M447.1 446.1L449.7 451.3L454.4 455.5"/>
<path class="o" d="M460.7 481.5L464.3 477.4"/>
</g>

<!-- 45_pump1.svg -->
<g id="pump1">
<!-- upper nipple -->
<path class="w" d="M1379.3 425.7L1386.3 424.8L1404.1 415.1C1406.5 413.8 1409 413.2 1411.2 413.3C1414 414 1415.5 415.5 1415.6 417.7C1415.8 420 1415 422 1413.8 423.9L1407.6 428.4L1389.9 437.2Z"/>
<path class="t" d="M1402.5 416C1405 419 1406.5 423 1406.5 428"/>
<path class="t" d="M1405.5 414.5C1408 417.5 1409.5 421.5 1409.5 426.5"/>
<!-- middle nipple -->
<path class="w" d="M1391.7 449.6H1402.3L1408.5 453.2C1409.5 454.8 1409.7 456.5 1409.4 458.5C1408.8 460.5 1407.5 462.3 1405.8 463.8H1393.4Z"/>
<ellipse class="t" cx="1395.5" cy="456.7" rx="2.6" ry="6.5"/>
<path class="t" d="M1401.5 450V463.5"/>
<!-- lug -->
<path class="w" d="M1386.3 472.7L1397 474.4C1400.5 477 1402.8 480.5 1404.1 485.1C1405 488.5 1405.3 492 1405 495.7C1404.5 500 1403 503.5 1400.5 506.3C1397.5 509 1394 511 1389.9 511.7C1384.5 511.5 1380 510.3 1375.7 508.1L1370.4 504.6Z"/>
<ellipse class="o" cx="1394.3" cy="496.6" rx="5.6" ry="7" transform="rotate(15 1394.3 496.6)"/>
<ellipse class="t" cx="1394.6" cy="497" rx="2.8" ry="4" transform="rotate(15 1394.6 497)"/>
<path class="t" d="M1379 491L1386 506M1383 487.5L1389 497M1376 497L1381 508M1388 478L1396 484"/>
<!-- bottom nipple -->
<path class="w" d="M1312.8 508V524.1L1316.3 525.8V540L1313.7 544.5L1318.1 556C1320.5 557.8 1323.5 558.2 1326.1 557.7L1330.5 545.3L1328.7 540V525.8L1333.2 524.1L1335 515Z"/>
<path class="t" d="M1313.7 544.5C1318 546.5 1325 547 1330.5 545.3"/>
<path class="t" d="M1316.3 540C1320 541.3 1325 541.3 1328.7 540"/>
<!-- body -->
<path class="w" d="M1315.4 423L1324.3 416C1329 413.5 1334.5 412 1340.3 411.5C1344 411.5 1347.5 412 1350.9 413.3L1373.9 426.6L1379.3 425.7L1385 440L1350 505L1325 512L1312.8 510.8L1303 504.6C1299 501 1296 497 1294.2 492.2C1292.3 486.5 1291.3 480.5 1291.5 474.4L1295.1 458.5L1297.7 440.8C1299.5 436 1302 432 1304.8 429.2Z"/>
<!-- left face details -->
<path class="o" d="M1306.6 431.9L1326.1 431L1340.3 440.8"/>
<path class="o" d="M1306.6 431.9L1303 453.2L1304.8 467.4L1320.8 478"/>
<circle class="o" cx="1316.3" cy="447.9" r="5.4"/>
<circle class="t" cx="1316.3" cy="447.9" r="2.4"/>
<path class="t" d="M1327 441.7L1336.7 442.5L1331.4 451.4Z"/>
<path class="t" d="M1322.5 458.5L1327 462L1320.8 470.9L1317.2 463.8Z"/>
<!-- flange -->
<ellipse class="w" cx="1353.6" cy="474.4" rx="52.8" ry="28" transform="rotate(-55.3 1353.6 474.4)"/>
<ellipse class="o" cx="1355.3" cy="475.9" rx="39.5" ry="19.5" transform="rotate(-55.3 1355.3 475.9)"/>
<path class="t" d="M1331.4 483.3C1336 480 1340 478 1343 479.5C1347 481.5 1350 482 1354 480C1360 476 1363 469 1368 466.5C1372 464.5 1376 463 1379.3 462"/>
<path class="t" d="M1330.5 490.4C1335 487 1339 485.5 1343 487C1347 488.5 1351 489 1355 487C1361 483 1365 476 1369 474C1372 472.5 1375 471.5 1378.4 470.9"/>
<circle class="k" cx="1355.3" cy="474.6" r="2"/>
<circle class="k" cx="1351.8" cy="500.1" r="2"/>
<!-- diagonal -->
<path class="t" d="M1320.8 449.6L1421.8 502.8"/>
</g>
<g id="screw23a"><path class="k" d="M1421.8 503.2L1426.5 509.3L1443.0 518.2L1446.0 512.6L1429.5 503.7Z"/><path fill="none" stroke="#fff" stroke-width="0.7" d="M1425.9 508.2L1430.2 505.0M1429.1 509.9L1433.3 506.7M1432.3 511.6L1436.5 508.4M1435.5 513.3L1439.7 510.1M1438.6 515.0L1442.8 511.8M1441.8 516.7L1446.0 513.5"/><circle class="w" cx="1451.5" cy="516.3" r="8.6"/><path class="t" d="M1444.3 519.7C1445.8 513.2 1445.8 513.2 1450.4 508.4"/><path class="t" d="M1449.5 521.9H1454.5"/></g>

<!-- 46_part9.svg -->
<g id="part9">
<!-- fins -->
<path class="w" d="M1284.4 771.3L1262 815L1290 800Z" stroke="none"/>
<path class="w" stroke-width="2.6" d="M1273.5 776.8L1275.8 775.2L1282.5 782.0L1280.5 785.0L1279.7 791.2L1272.7 783.0Z"/>
<path class="t" d="M1273.5 776.8L1280.5 785.0"/>
<path class="w" stroke-width="2.6" d="M1264.9 779.9L1268.0 778.3L1279.0 789.0L1277.0 792.5L1276.2 799.5L1264.1 786.9Z"/>
<path class="t" d="M1264.9 779.9L1277.0 792.5"/>
<path class="w" stroke-width="2.6" d="M1256.3 786.1L1259.4 784.6L1274.0 800.0L1272.0 803.5L1270.4 812.1L1254.7 794.7Z"/>
<path class="t" d="M1256.3 786.1L1272.0 803.5"/>
<path class="w" stroke-width="2.6" d="M1246.1 793.2L1249.2 791.6L1263.0 806.0L1260.5 809.5L1259.0 818.9L1244.6 802.6Z"/>
<path class="t" d="M1246.1 793.2L1260.5 809.5"/>
<path class="w" stroke-width="2.8" d="M1236.7 805.7L1239.9 802.6L1259.4 813.5L1256.3 824.5L1236 810.4Z"/>
<path class="t" d="M1236.7 805.7L1257.5 818"/>
<!-- lower block -->
<path class="w" d="M1289.1 845L1292.3 876.1L1301.6 880L1351.7 852.6V824.5L1343.9 825.3L1340.7 821.3L1300 830Z"/>
<path class="t" d="M1301.6 880L1300.1 852.6L1290 848"/>
<!-- top plate -->
<path class="w" d="M1284.4 779.1L1326.7 752.5C1329.5 751.3 1332 751.2 1334.5 751.7L1338.4 755.6L1340 779.1L1342 822L1300 836L1285.2 815Z"/>
<path class="t" d="M1286.8 781.5L1328.2 756.4L1334.5 755.6"/>
<path class="t" d="M1286.8 781.5V812"/>
<path class="t" d="M1281.3 772.8C1283 770.5 1285.5 769.5 1287.6 769.7C1289.3 770.3 1290.3 771.5 1290.7 772.8"/>
<!-- slot -->
<path class="o" d="M1304 818.2L1303.2 785.4C1304 782 1305.5 779.8 1307.9 778.3C1311 776.5 1315 775.3 1318.9 775.2C1321.5 775.4 1323.5 776.2 1325.1 777.5C1327 779.5 1328 782 1328.2 785.4L1327.5 813.5C1325.5 817.5 1322.5 820.8 1318.9 822.9C1316 824 1312.5 824.6 1309.5 824.5C1307 823 1305 821 1304 818.2Z"/>
<path class="o" d="M1310.2 819.8V788.5C1311 786.5 1312.5 784.8 1314.2 783.8L1322.8 781.5L1324.3 810.4"/>
<!-- right cylinder -->
<path class="w" d="M1332.9 791.6L1340 779.1C1346 780 1352.5 784.5 1357.2 791.6C1358.3 795 1358.5 799 1358 802.6C1356.5 810 1352.5 816.5 1347 819.8C1342 821.5 1337 822 1332 821Z"/>
<ellipse class="o" cx="1344.5" cy="802" rx="10.8" ry="16.6" transform="rotate(22 1344.5 802)"/>
<ellipse class="t" cx="1344.5" cy="802" rx="8" ry="13.4" transform="rotate(22 1344.5 802)"/>
<path class="o" d="M1337.6 801L1348.6 802.6L1342.3 813.5Z"/>
<path class="t" d="M1341 803.5L1345.8 804.3L1343 809Z"/>
<!-- left cylinder -->
<path class="w" d="M1262.5 813.5L1275.1 810.4L1290.7 813.5H1300.1C1304.5 817 1308 822 1309.5 827.6C1310.3 830.5 1310.5 834 1310.2 837C1308.5 843 1303.5 847.5 1297 849.5C1291 850.3 1285 849.8 1279.7 847.9L1262.5 838.5L1258.6 832.3L1260.2 815.1Z"/>
<ellipse class="o" cx="1295.4" cy="832" rx="11.4" ry="17.4" transform="rotate(24 1295.4 832)"/>
<ellipse class="t" cx="1295.4" cy="832" rx="8.4" ry="14" transform="rotate(24 1295.4 832)"/>
<path class="o" d="M1288.5 831L1300.5 832.5L1293.5 844.5Z"/>
<path class="t" d="M1292 833.5L1297.3 834.3L1294.2 839.5Z"/>
</g>

<!-- 47_valve5.svg -->
<g id="valve5">
<!-- bracket arcs -->
<path class="o" d="M1111.8 788.6C1106 789.5 1101 791 1096.9 793.3C1092 796 1088 799.5 1084.4 803.5"/>
<path class="o" d="M1111.8 794.1C1107 795 1103.5 796.3 1100.1 798C1096 800.3 1092.5 803 1089.1 806.6"/>
<!-- body lower -->
<path class="w" d="M1073.5 820.7L1070.3 828.5L1071.1 842.6L1075.8 850.4L1086 856.7L1089 860L1115 857L1128 819L1112 812L1091.5 808.2L1083.6 807.4Z"/>
<path class="t" d="M1077.4 820.7L1075 830.1L1075.8 842.6L1081.3 848.9"/>
<path class="o" d="M1087.5 817.6L1085.2 827L1087.5 834.8L1092.2 837.9L1104.7 852L1115.7 856.7"/>
<path class="o" d="M1083.6 807.4L1091.5 808.2L1109.4 816.8L1128.2 819.1"/>
<!-- bottom nipple -->
<path class="w" d="M1089.9 842.6L1089.1 862.9L1085.2 864.5L1086 880.1L1090.7 888H1098.5L1104 880.1V866.1L1100.1 864.5V850Z"/>
<path class="t" d="M1085.5 870.8C1091 873 1099 873 1104 870.8M1086 878.6C1091 880.5 1099 880.5 1104 878.6M1088 883.8C1092 885 1097 885 1101.5 883.8"/>
<!-- hex bolt -->
<path class="w" d="M1063.3 806.6L1070.3 800.4L1076.6 799.6L1082.1 805.1L1083.6 807.4L1079.7 817.6L1073.5 820.7L1065.6 816Z"/>
<path class="t" d="M1070.3 801L1073.5 808.2L1082 805.5M1073.5 808.2V820"/>
<!-- top nipple -->
<path class="w" d="M1111.8 767.5C1113.5 766 1116 765.2 1118.8 765.2C1121.5 765.2 1124 766 1125.9 767.5L1127.4 774.6L1126 778.5L1127.4 783.2L1125.5 787L1125.1 817.6L1112.6 812.9L1112 787L1111 782.4L1112.3 778L1111 773.8Z"/>
<path class="t" d="M1112 769.5C1115 771 1122.5 771 1125.8 769.5"/>
<path class="t" d="M1111.5 776C1115 777.5 1123 777.7 1127 776.3M1111.8 785C1116 786.5 1122.5 786.6 1126.5 785.5"/>
<path class="t" d="M1128.2 801.9C1130 803 1130.8 804.8 1130.6 806.6C1130.3 809 1129.5 811 1128.2 812.9"/>
<!-- face -->
<ellipse class="t" cx="1107" cy="839.5" rx="6" ry="13.5" transform="rotate(20 1107 839.5)"/>
<ellipse class="w" cx="1121" cy="838" rx="12.8" ry="19" transform="rotate(24 1121 838)"/>
<ellipse class="o" cx="1121.3" cy="838.3" rx="8.8" ry="14.2" transform="rotate(24 1121.3 838.3)"/>
<path class="o" d="M1114 846L1128 829M1117.5 836L1124.5 840.5"/>
<path class="t" d="M1116 833C1118 829 1122 826.5 1126 826.5M1118 850C1122 849 1126 845 1127.5 840"/>
<!-- slot -->
<ellipse class="t" cx="1093.6" cy="821.3" rx="1.8" ry="3.4" transform="rotate(-25 1093.6 821.3)"/>
<path class="t" d="M1096.9 822.3L1104.7 824.6"/>
</g>
<path class="t" d="M1131.3 840.2L1146 848"/>
<g id="screw23b"><path class="k" d="M1144.0 847.0L1148.6 853.1L1168.5 863.8L1171.5 858.2L1151.7 847.5Z"/><path fill="none" stroke="#fff" stroke-width="0.7" d="M1148.1 852.0L1152.4 848.8M1151.3 853.7L1155.5 850.5M1154.5 855.4L1158.7 852.2M1157.7 857.1L1161.9 853.9M1160.8 858.8L1165.0 855.6M1164.0 860.5L1168.2 857.3M1167.2 862.2L1171.4 859.0"/><circle class="w" cx="1176.8" cy="860.8" r="7.4"/><path class="t" d="M1170.6 863.8C1171.9 858.2 1171.9 858.2 1175.8 854.0"/><path class="t" d="M1174.8 865.6H1179.8"/></g>

<!-- 48_knob.svg -->
<g id="bolt">
<g transform="translate(880 722.6) rotate(27.2)">
<path class="w" d="M36 -4.2H48.5C50 -2.5 50 2.5 48.5 4.2H36Z"/>
<path fill="none" stroke="#000" stroke-width="1.6" d="M39 -4.2C40.5 -2 40.5 2 39 4.2M42 -4.2C43.5 -2 43.5 2 42 4.2M45 -4.2C46.5 -2 46.5 2 45 4.2"/>
<path class="w" d="M29 -6H36.5V6H29Z"/>
<path class="w" d="M8 -8.3H30C32 -5 32 5 30 8.3H8Z"/>
<ellipse class="w" cx="8" cy="0" rx="4" ry="10.2"/>
<ellipse class="w" cx="4" cy="0" rx="4" ry="10.4"/>
<ellipse class="w" cx="0" cy="0" rx="4" ry="10.4"/>
<ellipse class="t" cx="31" cy="0" rx="2.4" ry="6"/>
</g>
</g>
<g id="knob">
<path class="w" d="M943.2 738.2L944.7 721.4C946 719 948 717.3 950.5 716.3C954.5 715 958.5 714.5 962.2 714.8L976.8 723.6L988.5 732.4C992 735 994.5 738 995.8 741.1L996.6 748.4L1011.2 760.1L1010.4 771.8L1003.1 792.2L988.5 806.8L982.7 805.4L969.5 801C967 803 964.5 804.5 962.2 805.4C957.5 807.5 952.5 808.5 947.6 808.3C943 807 939 805 935.9 802.5C933.5 799.5 931.5 796 930.1 792.2L924.3 789.3L922.8 783.5L928.6 752.8C932 746.5 937 741.5 943.2 738.2Z"/>
<!-- notch wedge -->
<path class="o" d="M944.7 722.9L960.8 729.4L947.6 740.4L941.8 738.2"/>
<!-- front disc arcs -->
<path class="o" d="M947.6 740.4C952 736.5 957 733.8 962.2 732.4C967 730 972 728.8 976.8 728.7C981 729.3 985 730.5 988.5 732.4"/>
<path class="t" d="M946.2 742.6C941 747 938.5 752 936.5 758C934 765 933 772 933 777.6C933 785 934 792 935.9 798.1"/>
<path class="t" d="M939.6 757.2C937.5 764 936.8 771 937 778C937.3 785 938.5 791 940.5 796"/>
<path class="o" d="M928.6 752.8L922.8 783.5L924.3 789.3L930.1 792.2"/>
<path class="t" d="M930.1 792.2C929.5 786 929.5 780 930.5 774"/>
<!-- hub -->
<path class="o" d="M978.3 752.8C973.5 752.3 969 752.8 965.2 754.3C960 757 956 761.5 953.5 771.8C953.3 775 953.8 778 954.9 780.6C956.3 783.5 958.3 786 960.8 787.9L971 792.2"/>
<path class="o" d="M978.3 752.8L987.1 748.4L995.8 749.9L1011.2 760.1"/>
<path class="o" d="M978.3 752.8L987.1 763C981 766.5 976 771.5 972.5 777.6C972 782 972.5 786.5 973.9 790.8L985.6 798.1L982.7 805.4"/>
<path class="o" d="M971 792.2L973.9 790.8"/>
<path class="o" d="M987.1 763L1006.1 761.6L1011.2 760.1"/>
<path class="t" d="M979.8 779.1L987.1 774.7L990 780.6L984.1 787.9Z" stroke-width="2.4"/>
<path class="t" d="M991.5 776.2C993 773 995 771 997.3 769.6L1004.6 765.9V777.6C1003 783 1000.5 787.5 997.3 790.8L988.5 798.1L987.1 792.2L995.8 783.5C997 781 997.6 778 997.5 775"/>
<ellipse class="t" cx="944.7" cy="789.7" rx="8.5" ry="1.6" transform="rotate(-46.5 944.7 789.7)"/>
</g>

<!-- 49_small.svg -->
<g id="clip27" transform="translate(606.7 659.2)"><ellipse class="t" stroke-width="2.4" cx="17.2" cy="-1.6" rx="5.6" ry="3"/><path class="w" stroke-width="2.6" d="M-14 0C-14 6.935 -7.0 7.3 0 7.3C8.4 7.3 14 4.38 14 0.5C14.5 -2 15.5 -5 10.5 -8.2C6.3 -9.6 2.8000000000000003 -9 1.68 -6.6C-7.0 -7.4 -14 -5.84 -14 0Z"/><path class="t" d="M1.68 -6.6C7.0 -5.5 11.9 -3 14 0.5"/></g>
<g id="clip25a" transform="translate(711.2 775)"><ellipse class="t" stroke-width="2.4" cx="17.0" cy="-1.6" rx="5.6" ry="3"/><path class="w" stroke-width="2.6" d="M-13.8 0C-13.8 6.6499999999999995 -6.9 7 0 7C8.28 7 13.8 4.2 13.8 0.5C14.3 -2 15.3 -5 10.350000000000001 -8.2C6.210000000000001 -9.6 2.7600000000000002 -9 1.656 -6.6C-6.9 -7.4 -13.8 -5.6000000000000005 -13.8 0Z"/><path class="t" d="M1.656 -6.6C6.9 -5.5 11.73 -3 13.8 0.5"/></g>
<g id="clip26a">
<path class="w" stroke-width="2.8" d="M1076 482.5C1076 478.5 1081 476 1087.5 476C1090 476 1092 476.3 1093.5 476.3C1095 474.8 1097 474.5 1099 474.6C1101.5 474.8 1103.5 476.5 1102.5 478.8C1101.5 481 1098.5 481.5 1098.5 483.5C1098 487 1093.5 489 1087.5 489C1081 489 1076 486.5 1076 482.5Z"/>
<path fill="none" stroke="#000" stroke-width="2.8" stroke-linecap="round" stroke-linejoin="round" d="M1102 476L1107.5 481.5L1106.5 485.5L1102 485.8"/>
</g>
<g id="clip25b" transform="translate(1119 741.8)"><ellipse class="t" stroke-width="2.4" cx="16.2" cy="-1.6" rx="5.6" ry="3"/><path class="w" stroke-width="2.6" d="M-13 0C-13 6.27 -6.5 6.6 0 6.6C7.8 6.6 13 3.9599999999999995 13 0.5C13.5 -2 14.5 -5 9.75 -8.2C5.8500000000000005 -9.6 2.6 -9 1.56 -6.6C-6.5 -7.4 -13 -5.28 -13 0Z"/><path class="t" d="M1.56 -6.6C6.5 -5.5 11.049999999999999 -3 13 0.5"/></g>
<g id="clip26b" transform="translate(1432.5 406.9) rotate(-14)"><ellipse class="w" stroke-width="2.8" cx="0" cy="0" rx="6.3" ry="9.6"/><path class="w" stroke-width="2.6" d="M-7.2 -11.5C-7.5 -15 -5 -17 -1 -17.2C3.5 -17.4 6.5 -15.5 6.8 -12.5C7 -10 5 -8.6 2.5 -8.4C-1 -9.8 -4 -9.8 -5.5 -8.2C-6.8 -9 -7.2 -10 -7.2 -11.5Z"/><path class="t" d="M-2.5 -16.5L-0.5 -9.5M2.8 -16.6L4.6 -9.5"/></g>
<g id="clip28" transform="translate(1511.5 533.2) rotate(-8)"><ellipse class="w" stroke-width="2.8" cx="0" cy="0" rx="6.3" ry="9.6"/><path class="w" stroke-width="2.6" d="M-7.2 -11.5C-7.5 -15 -5 -17 -1 -17.2C3.5 -17.4 6.5 -15.5 6.8 -12.5C7 -10 5 -8.6 2.5 -8.4C-1 -9.8 -4 -9.8 -5.5 -8.2C-6.8 -9 -7.2 -10 -7.2 -11.5Z"/><path class="t" d="M-2.5 -16.5L-0.5 -9.5M2.8 -16.6L4.6 -9.5"/></g>
<g id="clip25c" transform="translate(1726.3 299.3) rotate(-16)"><ellipse class="w" stroke-width="2.8" cx="0" cy="0" rx="6.3" ry="9.6"/><path class="w" stroke-width="2.6" d="M-7.2 -11.5C-7.5 -15 -5 -17 -1 -17.2C3.5 -17.4 6.5 -15.5 6.8 -12.5C7 -10 5 -8.6 2.5 -8.4C-1 -9.8 -4 -9.8 -5.5 -8.2C-6.8 -9 -7.2 -10 -7.2 -11.5Z"/><path class="t" d="M-2.5 -16.5L-0.5 -9.5M2.8 -16.6L4.6 -9.5"/></g>
<g id="clamp32" transform="translate(536.5 707.3) scale(1.06 1.06)"><path class="w" stroke-width="2.6" d="M-25 -11.5L-13 -8V9L-25 8.5Z"/><path class="w" stroke-width="2.2" d="M-21.5 -5H-12.5V5H-21.5Z"/><path class="t" d="M-18.5 -5V5"/><path class="w" stroke-width="2.8" d="M-14 -6.5V6.5C-14 11 -7 13.2 0 13.2C7 13.2 14 11 14 6.5V-6.5C14 -11 7 -13 0 -13C-7 -13 -14 -11 -14 -6.5Z"/><path class="t" stroke-width="2.2" d="M-14 -6.5C-14 -2.5 -7 -0.4 0 -0.4C7 -0.4 14 -2.5 14 -6.5"/><path class="t" stroke-width="1.8" d="M-5.5 -8.2L6 -6.3L-4.5 -3.6Z"/><path class="t" stroke-width="1.8" d="M-7 4L6 7.4L-6.5 8.6Z"/></g>
<g id="clamp30a" transform="translate(677 775.8) scale(0.9 0.9)"><path class="w" stroke-width="2.6" d="M-25 -11.5L-13 -8V9L-25 8.5Z"/><path class="w" stroke-width="2.2" d="M-21.5 -5H-12.5V5H-21.5Z"/><path class="t" d="M-18.5 -5V5"/><path class="w" stroke-width="2.8" d="M-14 -6.5V6.5C-14 11 -7 13.2 0 13.2C7 13.2 14 11 14 6.5V-6.5C14 -11 7 -13 0 -13C-7 -13 -14 -11 -14 -6.5Z"/><path class="t" stroke-width="2.2" d="M-14 -6.5C-14 -2.5 -7 -0.4 0 -0.4C7 -0.4 14 -2.5 14 -6.5"/><path class="t" stroke-width="1.8" d="M-5.5 -8.2L6 -6.3L-4.5 -3.6Z"/><path class="t" stroke-width="1.8" d="M-7 4L6 7.4L-6.5 8.6Z"/></g>
<g id="clamp31a" transform="translate(1140.5 483) scale(-0.98 0.98)"><path class="w" stroke-width="2.6" d="M-25 -11.5L-13 -8V9L-25 8.5Z"/><path class="w" stroke-width="2.2" d="M-21.5 -5H-12.5V5H-21.5Z"/><path class="t" d="M-18.5 -5V5"/><path class="w" stroke-width="2.8" d="M-14 -6.5V6.5C-14 11 -7 13.2 0 13.2C7 13.2 14 11 14 6.5V-6.5C14 -11 7 -13 0 -13C-7 -13 -14 -11 -14 -6.5Z"/><path class="t" stroke-width="2.2" d="M-14 -6.5C-14 -2.5 -7 -0.4 0 -0.4C7 -0.4 14 -2.5 14 -6.5"/><path class="t" stroke-width="1.8" d="M-5.5 -8.2L6 -6.3L-4.5 -3.6Z"/><path class="t" stroke-width="1.8" d="M-7 4L6 7.4L-6.5 8.6Z"/></g>
<g id="clamp30b" transform="translate(1166.5 737.5) scale(-0.9 0.9)"><path class="w" stroke-width="2.6" d="M-25 -11.5L-13 -8V9L-25 8.5Z"/><path class="w" stroke-width="2.2" d="M-21.5 -5H-12.5V5H-21.5Z"/><path class="t" d="M-18.5 -5V5"/><path class="w" stroke-width="2.8" d="M-14 -6.5V6.5C-14 11 -7 13.2 0 13.2C7 13.2 14 11 14 6.5V-6.5C14 -11 7 -13 0 -13C-7 -13 -14 -11 -14 -6.5Z"/><path class="t" stroke-width="2.2" d="M-14 -6.5C-14 -2.5 -7 -0.4 0 -0.4C7 -0.4 14 -2.5 14 -6.5"/><path class="t" stroke-width="1.8" d="M-5.5 -8.2L6 -6.3L-4.5 -3.6Z"/><path class="t" stroke-width="1.8" d="M-7 4L6 7.4L-6.5 8.6Z"/></g>
<g id="rclamp31b" transform="translate(1379.5 376.7) rotate(0)"><path class="k" d="M11.2 -9L16.2 -5.5L22.7 -3.6L17.2 1.6L20.2 6.5L15.2 9L10.2 12L5.199999999999999 6L5.199999999999999 -8Z"/><ellipse cx="0" cy="0" rx="12.7" ry="13.7" fill="#fff" stroke="#000" stroke-width="3.4"/><path class="k" d="M1 -13.2C12.78 -13.2 13.2 -4.26 13.2 0C13.2 5.68 8.52 13.2 0 13.2C4.97 7.1 4.97 -6.39 1 -13.2Z"/><path fill="none" stroke="#fff" stroke-width="1.3" d="M3.5 -8L8.5 -4.5M2.5 -1L8 1.5M5 5.5L9 3.5M4 -11L7 -9.5"/><path fill="none" stroke="#000" stroke-width="1.8" d="M-7.5 1L-6 7.5L-3.5 2L-1.5 8.5L0 3"/><path fill="none" stroke="#000" stroke-width="1.8" d="M-2 -9C1 -4 2 2 0.5 9"/></g>
<g id="rclamp30c">
<path class="w" stroke-width="3" d="M1684.5 237.2L1690.2 230.4L1699.6 225.7L1702.4 230.6L1700.5 234L1694.5 235.5L1690.5 241Z"/>
<path class="k" d="M1687 236L1692 231.5L1698 229L1699.5 232L1693 234.5L1689.5 239.5Z"/>
<ellipse cx="1703.8" cy="248.4" rx="13.2" ry="13.4" fill="#fff" stroke="#000" stroke-width="3.2"/>
<path fill="none" stroke="#000" stroke-width="2.6" stroke-linecap="round" d="M1694.5 243.5C1694 249 1696 254.5 1699 257.5M1699.5 240C1699.5 246 1702 253 1706 256.5M1705 238.5C1705.5 244 1708.5 250 1712 253M1710.5 240.5C1711.5 244 1713.5 247 1715.5 248.5"/>
<path fill="none" stroke="#000" stroke-width="2" d="M1692 251.5L1697 246.5M1703 258.5L1709.5 251"/>
</g>
<g id="pin6">
<path class="w" d="M643.3 651.7C643.5 648.5 646.5 646.3 650 646.3C653.8 646.3 656.5 648.5 656.7 651.7L650.8 699H636.4Z"/>
<path class="t" d="M646.7 655L640.8 692M650.8 655.8L645 692M654.2 655.8L648.3 692"/>
<path class="t" d="M644 651.5C646 653.3 654 653.5 656.3 651.8"/>
<ellipse class="w" cx="643.2" cy="703.8" rx="10.3" ry="5.6"/>
<ellipse class="w" cx="643" cy="700.5" rx="10.3" ry="5.6"/>
<path class="t" d="M637 696.8C640 698.6 647 698.7 650.5 697"/>
</g>

<!-- 70_arrows.svg -->
<g id="blockarrow">
<path class="l" stroke-linejoin="miter" d="M992.3 669.8L1018.6 692.5H1007.3V707.8H977.1V692.5H966L992.3 669.8Z"/>
<path fill="none" stroke="#000" stroke-width="2.2" stroke-dasharray="9 8" d="M898 668L1012 732L1023 767L980 837L847 757Z"/>
</g>
<g id="fr">
<path class="k" d="M23.1 929L31.1 898.9L34.9 906.9L73.8 886.7L85.1 907.9L48.9 929.4L52.7 937.9Z"/>

<circle cx="129" cy="877.6" r="4.7" fill="#000"/>
</g>

<!-- 80_leaders.svg -->
<g id="leaders" class="l">
<path d="M250 85H292.5 M94 283H120 M965.5 272.5V315 M460 488.5V533 M568 660H592.5 M654 677.5H675 M487.5 707H510 M519.5 824.5H562.5 M644.5 776H656 M735 772H759 M1066 481H1077.5 M1162.5 484H1175 M1101.7 595.5H1145.5 M1088 741.7H1106 M1186 738H1199 M1125 792H1169 M1173 870V883 M1322.5 712.5V752.5 M1317 391V422.5 M1380 334V363.6 M1434 363.6V391.8 M1445 526V546 M1510 544V581 M1564 277V320 M1567 407.5V446 M1688 439V482.5 M1656.5 599.4V643.5 M1696 194.7V230.7 M1728 309V330"/>
<path d="M278 220.5H322 M650.5 171H694" stroke-width="2.2"/>
</g>
<g id="brackets" fill="none" stroke="#000" stroke-width="2.9" stroke-linejoin="miter">
<path d="M204 175V420H54" stroke-width="2.2"/>
<path d="M352.5 280V417.5L547 312V152.5L773.7 26V74.5" stroke-width="2.2"/>
<path d="M1089 474V436H1220.6V579H1324V557.5"/>
<path d="M1410 457.5L1476 460V531H1504"/>
<path d="M714 760V695L1093 920V895"/>
<path d="M474 684H566V737H474"/>
<path d="M615 750H693V804H615"/>
<path d="M1200 456H1119.5V509.5H1200"/>
<path d="M1229 712.5H1146V765H1226"/>
<path d="M1348.8 321.4V397H1406V321.4"/>
<path d="M1666 200V268H1730V200"/>
<path d="M1737.6 289.5L1768 272.5"/>
<path d="M1827.5 465L1850 481"/>
</g>
<g class="k">
<path d="M1774 269L1761 271.5L1765 278.5Z"/>
<path d="M1855.5 485L1848.5 474L1843.5 481Z"/>
</g>

<!-- 90_labels.svg -->
<g id="labels" fill="#000" stroke="none">
<text transform="translate(211.0 98.1) scale(1 1.07)" font-size="32" >11</text>
<text transform="translate(235.0 233.1) scale(1 1.07)" font-size="32" >17</text>
<text transform="translate(50.0 295.2) scale(1 1.07)" font-size="32" >29</text>
<text transform="translate(624.0 181.2) scale(1 1.07)" font-size="32" >8</text>
<text transform="translate(957.0 259.6) scale(1 1.07)" font-size="32" >7</text>
<text transform="translate(442.8 566.5) scale(1 1.07)" font-size="32" >10</text>
<text transform="translate(526.0 670.6) scale(1 1.07)" font-size="32" >27</text>
<text transform="translate(685.0 687.2) scale(1 1.07)" font-size="32" >6</text>
<text transform="translate(444.0 717.7) scale(1 1.07)" font-size="32" >32</text>
<text transform="translate(479.0 835.7) scale(1 1.07)" font-size="32" >18</text>
<text transform="translate(605.0 787.5) scale(1 1.07)" font-size="32" >30</text>
<text transform="translate(763.5 784.2) scale(1 1.07)" font-size="32" >25</text>
<text transform="translate(1024.5 493.7) scale(1 1.07)" font-size="32" >26</text>
<text transform="translate(1177.0 494.2) scale(1 1.07)" font-size="32" >31</text>
<text transform="translate(1153.0 609.2) scale(1 1.07)" font-size="32" >20</text>
<text transform="translate(1047.0 754.2) scale(1 1.07)" font-size="32" >25</text>
<text transform="translate(1202.0 749.5) scale(1 1.07)" font-size="32" >30</text>
<text transform="translate(1182.0 804.2) scale(1 1.07)" font-size="32" >5</text>
<text transform="translate(1155.5 916.2) scale(1 1.07)" font-size="32" >23</text>
<text transform="translate(1313.5 704.2) scale(1 1.07)" font-size="32" >9</text>
<text transform="translate(1304.0 378.1) scale(1 1.07)" font-size="32" >1</text>
<text transform="translate(1362.0 324.7) scale(1 1.07)" font-size="32" >31</text>
<text transform="translate(1416.5 354.7) scale(1 1.07)" font-size="32" >26</text>
<text transform="translate(1427.0 575.7) scale(1 1.07)" font-size="32" >23</text>
<text transform="translate(1491.0 610.7) scale(1 1.07)" font-size="32" >28</text>
<text transform="translate(1545.0 265.7) scale(1 1.07)" font-size="32" >19</text>
<text transform="translate(1558.0 479.6) scale(1 1.07)" font-size="32" >2</text>
<text transform="translate(1679.0 430.6) scale(1 1.07)" font-size="32" >4</text>
<text transform="translate(1646.0 676.2) scale(1 1.07)" font-size="32" >3</text>
<text transform="translate(1677.0 187.5) scale(1 1.07)" font-size="32" >30</text>
<text transform="translate(1709.0 361.7) scale(1 1.07)" font-size="32" >25</text>
<text transform="translate(1486.0 912.6) scale(1 1.07)" font-size="22.5" >ZT34F1600G</text>
</g>

<!-- 91_bold.svg -->
<g id="bold" fill="#000">
<text transform="translate(1784.00 258.80) scale(1.051 1)" font-size="31" font-weight="bold" stroke="#000" stroke-width="2.0" stroke-linejoin="miter" stroke-miterlimit="2">F-13</text>
<text transform="translate(1784.00 288.00) scale(1.019 1)" font-size="31" font-weight="bold" stroke="#000" stroke-width="2.0" stroke-linejoin="miter" stroke-miterlimit="2">F-13-1</text>
<text transform="translate(1831.90 514.70) scale(0.997 1)" font-size="31" font-weight="bold" stroke="#000" stroke-width="2.0" stroke-linejoin="miter" stroke-miterlimit="2">E-3</text>
<text transform="translate(957.90 626.30) scale(1.045 1)" font-size="31" font-weight="bold" stroke="#000" stroke-width="2.0" stroke-linejoin="miter" stroke-miterlimit="2">F-29</text>
<text transform="translate(950.80 659.50) scale(1.010 1)" font-size="31" font-weight="bold" stroke="#000" stroke-width="2.0" stroke-linejoin="miter" stroke-miterlimit="2">F-29-1</text>
</g>

<!-- 92_fr.svg -->
<text transform="translate(87.9 905) rotate(-27.4)" x="-1.5" y="-0.5" font-size="31" font-weight="bold" fill="#000" stroke="#000" stroke-width="1.6" stroke-linejoin="round">FR</text>

<!-- 95_watermark.svg -->
<g id="watermark" fill="url(#dots)" fill-rule="evenodd" stroke="none">
<!-- H -->
<path d="M522 350H591V363H574V385H633V363H609V350H681V363H663V423H681V437H609V423H633V402.5H574V423H591V437H522V423H542V363H522Z"/>
<!-- O -->
<path d="M683 393.5C683 366 714 349 754 349C794 349 825 366 825 393.5C825 421 794 438 754 438C714 438 683 421 683 393.5ZM724.5 393.5C724.5 410 737 420 755 420C773 420 785 410 785 393.5C785 377 773 367 755 367C737 367 724.5 377 724.5 393.5Z"/>
<!-- N -->
<path d="M830 349H895L937.5 402V362H925V349H980V362H965V437H925L874 373V424H887V437H830V424H845V362H830Z"/>
<!-- D -->
<path d="M985 349H1075C1108 349 1128 366 1128 393C1128 420 1108 437 1075 437H985V424H1002.5V362H985ZM1032.5 361V422.5H1062C1080 422.5 1090 411 1090 392C1090 373 1080 361 1062 361Z"/>
<!-- A -->
<path d="M1150 349H1225L1283 424H1290V437H1210L1212 411H1172L1177.5 437H1120V424H1122ZM1187.5 377.5L1172 401H1207Z"/>
</g>

</svg>
</body></html>
